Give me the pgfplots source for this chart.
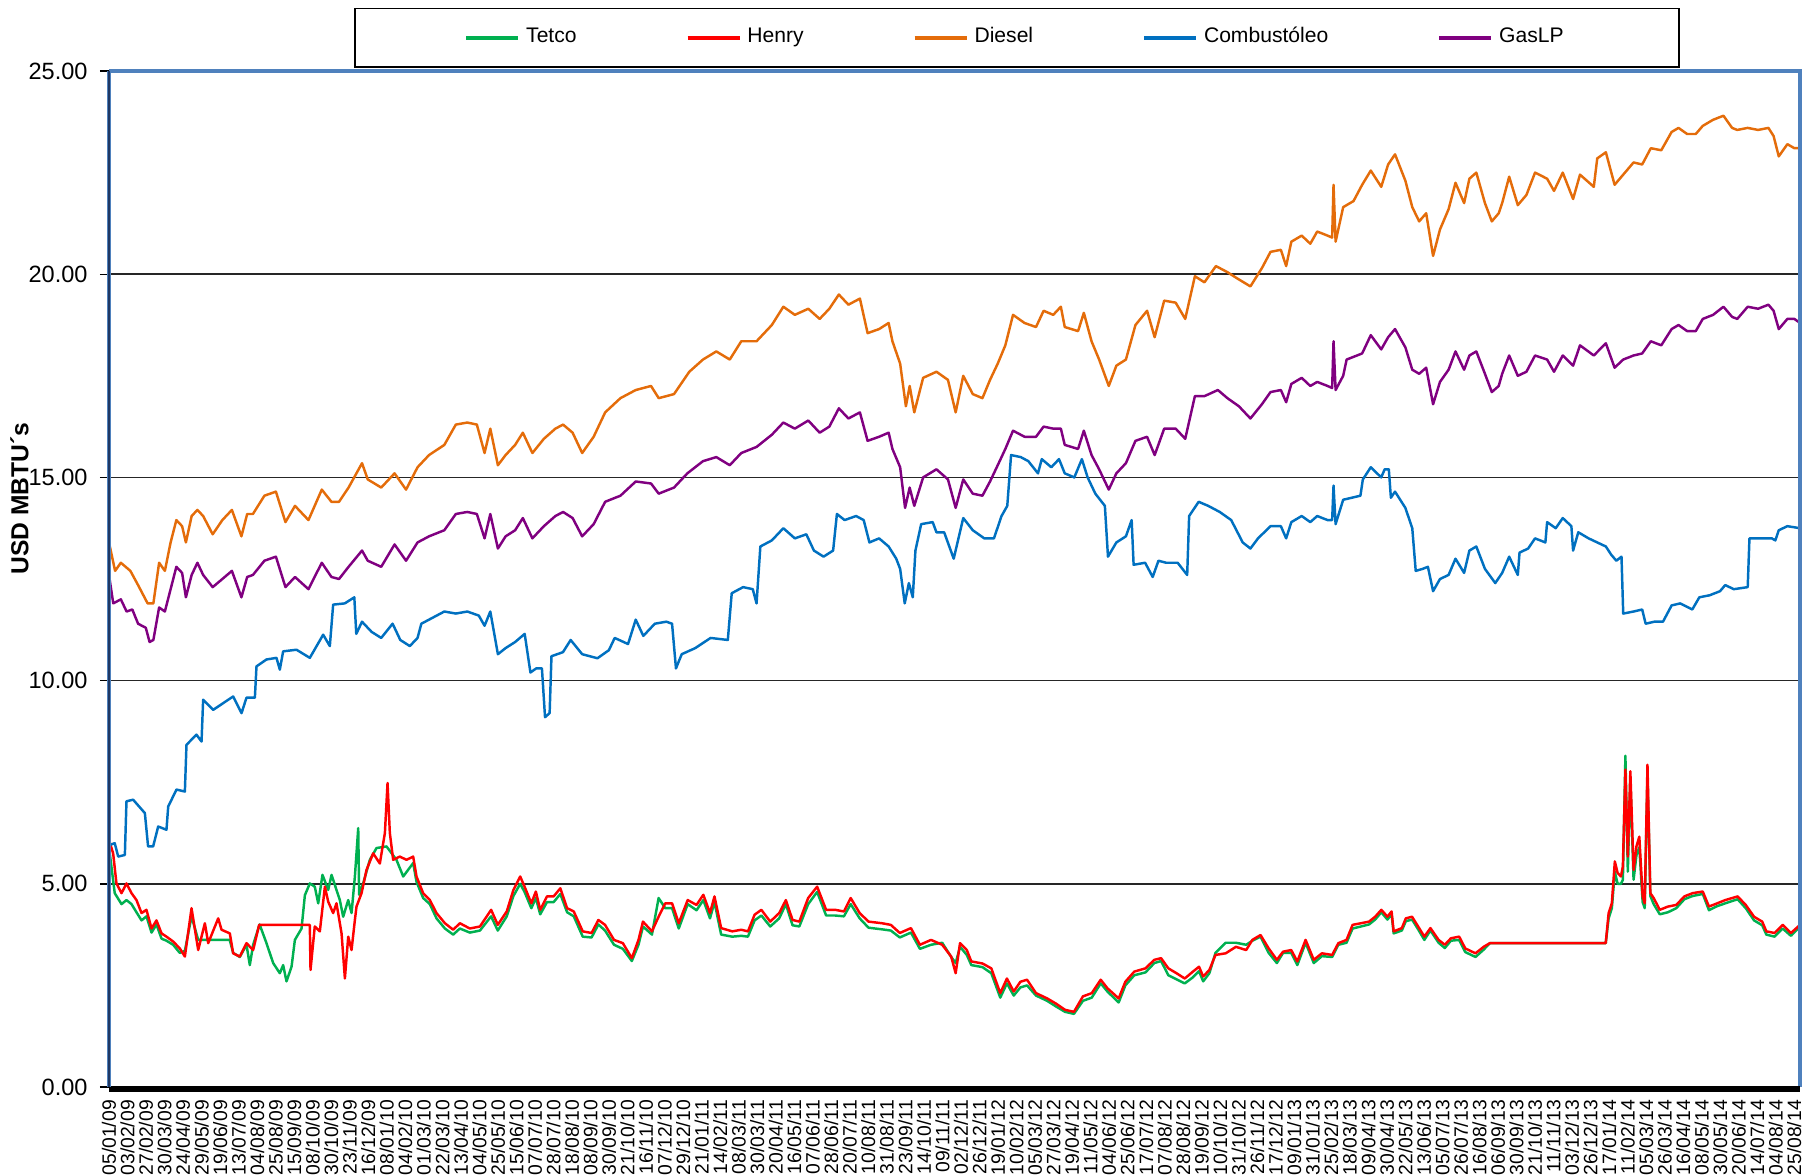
\documentclass[border=0pt]{standalone}
\usepackage{fontspec}
\setmainfont{Liberation Sans}
\usepackage{pgfplots}
\pgfplotsset{compat=1.18}

\definecolor{tetco}{RGB}{0,176,80}
\definecolor{henry}{RGB}{255,0,0}
\definecolor{diesel}{RGB}{228,108,10}
\definecolor{comb}{RGB}{0,112,192}
\definecolor{gaslp}{RGB}{128,0,128}
\definecolor{axblue}{RGB}{79,129,189}
\definecolor{navy}{RGB}{31,56,100}

\begin{document}
\begin{tikzpicture}
\path[use as bounding box] (-1.09,-0.87) rectangle (16.93,10.87);
\begin{axis}[
    at={(0,0)}, anchor=south west,
    scale only axis,
    width=16.91cm, height=10.16cm,
    xmin=95, xmax=1566,
    ymin=0, ymax=25,
    clip mode=individual,
    axis line style={draw=none},
    xtick={95,111.11,...,1562},
    xticklabels={05/01/09,03/02/09,27/02/09,30/03/09,24/04/09,29/05/09,19/06/09,13/07/09,04/08/09,25/08/09,15/09/09,08/10/09,30/10/09,23/11/09,16/12/09,
      08/01/10,04/02/10,01/03/10,22/03/10,13/04/10,04/05/10,25/05/10,15/06/10,07/07/10,28/07/10,18/08/10,08/09/10,30/09/10,21/10/10,16/11/10,07/12/10,29/12/10,
      21/01/11,14/02/11,08/03/11,30/03/11,20/04/11,16/05/11,07/06/11,28/06/11,20/07/11,10/08/11,31/08/11,23/09/11,14/10/11,09/11/11,02/12/11,26/12/11,
      19/01/12,10/02/12,05/03/12,27/03/12,19/04/12,11/05/12,04/06/12,25/06/12,17/07/12,07/08/12,28/08/12,19/09/12,10/10/12,31/10/12,26/11/12,17/12/12,
      09/01/13,31/01/13,25/02/13,18/03/13,09/04/13,30/04/13,22/05/13,13/06/13,05/07/13,26/07/13,16/08/13,06/09/13,30/09/13,21/10/13,11/11/13,03/12/13,26/12/13,
      17/01/14,11/02/14,05/03/14,26/03/14,16/04/14,08/05/14,30/05/14,20/06/14,14/07/14,04/08/14,25/08/14},
    x tick label style={rotate=90, anchor=east, font=\fontsize{5.5}{6}\selectfont, inner sep=1pt},
    xtick style={draw=none},
    ytick={0,5,...,25},
    ytick pos=left,
    tick align=outside,
    major tick length=0.09cm,
    ytick style={black, line width=0.4pt},
    /pgf/number format/assume math mode=true,
    yticklabel style={font=\fontsize{6.7}{8}\selectfont, /pgf/number format/fixed, /pgf/number format/fixed zerofill, /pgf/number format/precision=2},
    ymajorgrids,
    grid style={black!85, line width=0.45pt},
    legend columns=5,
    legend style={at={(0.1449,1.003)}, anchor=south west, draw=black, line width=0.45pt,
      inner xsep=1.095cm, inner ysep=0.12cm, font=\fontsize{6}{7}\selectfont,
      nodes={inner xsep=0.06cm},
      /tikz/every even column/.append style={column sep=1.03cm}},
    legend image code/.code={\draw[#1, line width=1.1pt] (0cm,0cm) -- (0.52cm,0cm);},
    every axis plot/.append style={line width=0.7pt, line join=round, no markers},
]
% Tetco
\addplot[tetco] coordinates {
(95,5.9) (100,4.77) (105.9,4.5) (110.2,4.6) (114.6,4.5) (118.9,4.3) (123.3,4.1) (127.6,4.2) (132,3.8) (136.3,4.0)
(140.7,3.65) (145,3.6) (150.8,3.5) (156.6,3.3) (161,3.35) (166.8,4.2) (172.6,3.62) (200,3.62) (203,3.3) (208.8,3.2)
(214.6,3.5) (217.5,3.0) (220.4,3.5) (226,4.0) (232,3.54) (237.8,3.05) (243.6,2.8) (246.5,3.0) (249.4,2.6) (253.8,2.96)
(256.7,3.62) (262.5,3.9) (265.4,4.72) (269.7,5.01) (274,4.93) (277,4.52) (280.7,5.22) (285.7,4.85) (288.6,5.22) (295.8,4.6)
(298.7,4.19) (303.1,4.6) (306,4.28) (308.9,5.18) (311.8,6.37) (312.6,4.73) (316.1,5.01) (321.9,5.59) (327.7,5.88) (336.4,5.92)
(345.1,5.59) (350.9,5.18) (359.6,5.51) (362.5,5.05) (368.3,4.65) (374.1,4.5) (379.9,4.15) (387.2,3.9) (394.4,3.75) (400.2,3.9)
(408.9,3.8) (417.7,3.85) (427.4,4.2) (433.2,3.85) (441,4.2) (446.8,4.7) (452.7,5.0) (456.5,4.8) (462.4,4.4) (466.3,4.65)
(470.1,4.25) (476,4.55) (481.8,4.55) (487.6,4.75) (493.5,4.3) (499.3,4.2) (507.1,3.7) (514.8,3.68) (520.7,4.0) (526.5,3.85)
(534.3,3.5) (542,3.4) (549.8,3.1) (555.6,3.5) (559.5,3.95) (567.3,3.75) (573.1,4.65) (578.9,4.4) (584.8,4.4) (590.6,3.9)
(598.4,4.5) (606.1,4.35) (612,4.6) (617.8,4.15) (621.7,4.55) (627.5,3.75) (637.2,3.7) (645,3.72) (650.8,3.7) (656.6,4.1)
(662.5,4.22) (670.2,3.95) (678,4.15) (683.8,4.5) (689.6,3.98) (695.5,3.95) (703.2,4.5) (711,4.8) (718.8,4.22) (726.6,4.22)
(734.3,4.2) (740.2,4.5) (748,4.15) (755.7,3.92) (767.4,3.88) (775.1,3.85) (782.9,3.68) (792.6,3.8) (800.4,3.4) (810.1,3.5)
(819.8,3.55) (827.6,3.2) (831.5,3.05) (835.3,3.45) (841.2,3.25) (845.1,3.0) (854.8,2.95) (862.5,2.8) (870.3,2.2) (876.1,2.55)
(882,2.25) (887.8,2.45) (893.6,2.5) (901.4,2.25) (911.1,2.12) (918.9,1.98) (926.6,1.85) (934.4,1.8) (942.2,2.12) (949.9,2.2)
(957.7,2.55) (963.5,2.35) (973.3,2.08) (979.1,2.5) (986.9,2.75) (996.6,2.82) (1004.3,3.05) (1010.2,3.1) (1016.5,2.75) (1023.6,2.65)
(1030.8,2.55) (1037.9,2.7) (1043.2,2.85) (1046.8,2.6) (1052.2,2.8) (1057.5,3.3) (1066.4,3.55) (1075.3,3.55) (1084.2,3.5) (1089.6,3.6)
(1096.7,3.7) (1103.8,3.3) (1110.9,3.05) (1116.3,3.3) (1123.4,3.3) (1128.7,3.0) (1135.9,3.55) (1143,3.05) (1150.1,3.22) (1159,3.2)
(1164.4,3.5) (1171.5,3.55) (1176.8,3.9) (1184,3.95) (1191.1,4.0) (1196.4,4.12) (1201.8,4.3) (1207.1,4.12) (1210.7,4.25) (1212.5,3.78)
(1219.6,3.85) (1223.1,4.08) (1228.5,4.12) (1233.8,3.88) (1239.2,3.62) (1244.5,3.85) (1251.6,3.55) (1257,3.42) (1262.3,3.6) (1269.5,3.62)
(1274.8,3.32) (1283.7,3.2) (1290.8,3.38) (1296.2,3.54) (1397,3.54) (1399.5,4.15) (1402.3,4.4) (1404.9,5.3) (1407.3,5.0) (1410.2,5.0)
(1411.9,5.1) (1414.1,8.15) (1416.2,5.3) (1418.4,7.6) (1421.2,5.1) (1423.7,5.7) (1426.2,5.9) (1429.1,4.55) (1430.9,4.4) (1433.3,7.7)
(1435.8,4.7) (1438.7,4.5) (1444,4.25) (1451.1,4.3) (1458.3,4.4) (1465.4,4.62) (1472.5,4.7) (1481.4,4.75) (1486.8,4.35) (1493.9,4.45)
(1501,4.52) (1511.7,4.62) (1518.8,4.4) (1526,4.1) (1533.1,3.98) (1536.7,3.75) (1543.8,3.7) (1550.9,3.9) (1558.1,3.72) (1566,3.95)
};
\addlegendentry{Tetco}
% Henry
\addplot[henry] coordinates {
(95,6.08) (98.6,5.75) (101.5,5.01) (105.9,4.77) (110.2,5.01) (114.6,4.77) (118.9,4.6) (123.3,4.28) (127.6,4.36) (132,3.9)
(136.3,4.1) (140.7,3.78) (145,3.7) (150.8,3.58) (156.6,3.41) (161,3.21) (166.8,4.4) (172.6,3.37) (178.4,4.03) (181.3,3.54)
(190,4.15) (192.9,3.87) (200.1,3.78) (203,3.29) (208.8,3.21) (214.6,3.54) (220.4,3.37) (225.6,3.99) (269.7,3.99) (270.3,2.88)
(274,3.95) (278.4,3.83) (282.8,4.93) (285.7,4.56) (290,4.28) (292.9,4.52) (297.3,3.78) (300.2,2.67) (303.1,3.7) (306,3.37)
(308.9,4.11) (310.3,4.44) (314.7,4.77) (319,5.34) (324.8,5.75) (330.6,5.5) (335,6.25) (337.3,7.48) (339.3,6.25) (342.2,5.59)
(348,5.67) (353.8,5.59) (359.6,5.67) (362.5,5.18) (368.3,4.77) (374.1,4.6) (379.9,4.28) (387.2,4.03) (394.4,3.87) (400.2,4.03)
(408.9,3.9) (417.7,3.95) (427.4,4.36) (433.2,3.99) (441,4.32) (446.8,4.85) (452.7,5.18) (456.5,4.93) (462.4,4.52) (466.3,4.81)
(470.1,4.36) (476,4.69) (481.8,4.69) (487.6,4.89) (493.5,4.4) (499.3,4.32) (507.1,3.83) (514.8,3.79) (520.7,4.11) (526.5,3.99)
(534.3,3.62) (542,3.54) (549.8,3.17) (555.6,3.62) (559.5,4.07) (567.3,3.83) (573.1,4.19) (578.9,4.52) (584.8,4.52) (590.6,4.03)
(598.4,4.6) (606.1,4.48) (612,4.73) (617.8,4.28) (621.7,4.69) (627.5,3.91) (637.2,3.83) (645,3.87) (650.8,3.83) (656.6,4.24)
(662.5,4.36) (670.2,4.07) (678,4.28) (683.8,4.6) (689.6,4.11) (695.5,4.07) (703.2,4.65) (711,4.93) (718.8,4.36) (726.6,4.36)
(734.3,4.32) (740.2,4.65) (748,4.28) (755.7,4.07) (767.4,4.03) (775.1,3.99) (782.9,3.79) (792.6,3.91) (800.4,3.5) (810.1,3.62)
(819.8,3.5) (827.6,3.21) (831.5,2.8) (835.3,3.54) (841.2,3.37) (845.1,3.09) (854.8,3.04) (862.5,2.92) (870.3,2.31) (876.1,2.67)
(882,2.35) (887.8,2.59) (893.6,2.64) (901.4,2.31) (911.1,2.18) (918.9,2.05) (926.6,1.9) (934.4,1.85) (942.2,2.23) (949.9,2.31)
(957.7,2.64) (963.5,2.43) (973.3,2.18) (979.1,2.59) (986.9,2.84) (996.6,2.92) (1004.3,3.13) (1010.2,3.17) (1016.5,2.92) (1023.6,2.8)
(1030.8,2.67) (1037.9,2.84) (1043.2,2.96) (1046.8,2.72) (1052.2,2.88) (1057.5,3.25) (1066.4,3.29) (1075.3,3.45) (1084.2,3.37) (1089.6,3.62)
(1096.7,3.74) (1103.8,3.41) (1110.9,3.13) (1116.3,3.33) (1123.4,3.37) (1128.7,3.09) (1135.9,3.62) (1143,3.13) (1150.1,3.29) (1159,3.25)
(1164.4,3.54) (1171.5,3.62) (1176.8,3.99) (1184,4.03) (1191.1,4.07) (1196.4,4.19) (1201.8,4.36) (1207.1,4.19) (1210.7,4.32) (1212.5,3.83)
(1219.6,3.91) (1223.1,4.15) (1228.5,4.19) (1233.8,3.95) (1239.2,3.7) (1244.5,3.91) (1251.6,3.62) (1257,3.5) (1262.3,3.66) (1269.5,3.7)
(1274.8,3.41) (1283.7,3.29) (1290.8,3.45) (1296.2,3.54) (1397,3.54) (1399.5,4.28) (1402.3,4.52) (1404.9,5.55) (1407.3,5.27) (1410.2,5.18)
(1411.9,5.43) (1414.1,7.81) (1416.2,5.67) (1418.4,7.77) (1421.2,5.34) (1423.7,5.92) (1426.2,6.16) (1429.1,4.69) (1430.9,4.52) (1433.3,7.93)
(1435.8,4.77) (1438.7,4.65) (1444,4.36) (1451.1,4.44) (1458.3,4.48) (1465.4,4.69) (1472.5,4.77) (1481.4,4.81) (1486.8,4.44) (1493.9,4.52)
(1501,4.6) (1511.7,4.69) (1518.8,4.48) (1526,4.19) (1533.1,4.07) (1536.7,3.83) (1543.8,3.79) (1550.9,3.99) (1558.1,3.79) (1566,3.99)
};
\addlegendentry{Henry}
% Diesel
\addplot[diesel] coordinates {
(95,13.4) (100.3,12.7) (105.3,12.9) (113.6,12.7) (120.3,12.35) (128.6,11.9) (133.6,11.9) (138.6,12.9) (143.6,12.7) (148.6,13.4)
(153.6,13.95) (158.6,13.8) (161.9,13.4) (166.9,14.05) (171.9,14.2) (176.9,14.05) (185.2,13.6) (193.6,13.95) (201.9,14.2) (210.2,13.55)
(215.2,14.1) (220.2,14.1) (230.2,14.55) (240.2,14.65) (248.5,13.9) (256.8,14.3) (268.5,13.95) (280.1,14.7) (288.5,14.4) (295.1,14.4)
(303.4,14.75) (315.1,15.35) (320.1,14.95) (331.8,14.75) (343.4,15.1) (353.4,14.7) (363.4,15.25) (373.4,15.55) (386.7,15.8) (396.7,16.3)
(406.7,16.35) (415.0,16.3) (421.7,15.6) (426.7,16.2) (433.3,15.3) (440.0,15.55) (448.3,15.8) (455.0,16.1) (463.3,15.6) (473.3,15.95)
(483.3,16.2) (490.0,16.3) (498.3,16.1) (506.6,15.6) (516.6,16.0) (526.6,16.6) (539.9,16.95) (553.2,17.15) (566.5,17.25) (573.2,16.95)
(586.5,17.05) (599.8,17.6) (611.7,17.9) (623.3,18.1) (635.0,17.9) (645.0,18.35) (658.3,18.35) (671.6,18.75) (681.6,19.2) (691.6,19.0)
(703.3,19.15) (713.2,18.9) (721.6,19.15) (729.9,19.5) (738.2,19.25) (748.2,19.4) (754.9,18.55) (764.9,18.65) (773.2,18.8) (776.5,18.35)
(783.2,17.8) (788.2,16.75) (791.5,17.25) (795.5,16.6) (803.2,17.45) (814.8,17.6) (824.8,17.4) (831.5,16.6) (838.1,17.5) (846.4,17.05)
(854.8,16.95) (861.4,17.4) (868.1,17.8) (874.7,18.25) (881.4,19.0) (891.4,18.8) (901.4,18.7) (908.0,19.1) (916.4,19.0) (923.0,19.2)
(926.4,18.7) (938.0,18.6) (943.0,19.05) (949.7,18.35) (956.3,17.9) (964.7,17.25) (971.3,17.75) (979.6,17.9) (987.9,18.75) (998.0,19.1)
(1004.6,18.45) (1012.9,19.35) (1022.9,19.3) (1031.2,18.9) (1039.6,19.95) (1047.9,19.8) (1057.9,20.2) (1067.9,20.05) (1076.2,19.9) (1087.9,19.7)
(1097.9,20.15) (1105.4,20.55) (1114.4,20.6) (1119,20.2) (1123.5,20.8) (1132.5,20.95) (1140,20.75) (1146,21.05) (1155,20.95) (1159,20.9)
(1160.2,22.2) (1162,20.8) (1168.6,21.65) (1177.6,21.8) (1185.1,22.2) (1192.6,22.55) (1201.7,22.15) (1207.7,22.7) (1213.7,22.95) (1222.7,22.3)
(1228.7,21.65) (1234.7,21.3) (1240.8,21.5) (1246.8,20.45) (1252.8,21.1) (1260.3,21.6) (1266.3,22.25) (1273.8,21.75) (1278.4,22.35) (1284.4,22.5)
(1291.9,21.75) (1297.9,21.3) (1303.9,21.5) (1306.9,21.75) (1313,22.4) (1320.5,21.7) (1328,21.95) (1335.5,22.5) (1346,22.35) (1352,22.05)
(1359.6,22.5) (1368.6,21.85) (1374.6,22.45) (1386.6,22.15) (1389.6,22.85) (1397.1,23.0) (1404.7,22.2) (1412.2,22.45) (1421.2,22.75) (1428.7,22.7)
(1436.2,23.1) (1445.3,23.05) (1454.3,23.5) (1460.3,23.6) (1467.8,23.45) (1475.3,23.45) (1481.4,23.65) (1490.4,23.8) (1499.4,23.9) (1506.9,23.6)
(1511.4,23.55) (1520.5,23.6) (1529.5,23.55) (1538.5,23.6) (1543,23.4) (1547.5,22.9) (1555,23.2) (1561.1,23.1) (1566,23.1)
};
\addlegendentry{Diesel}
% Combustoleo
\addplot[comb] coordinates {
(95,5.95) (100,6.0) (103,5.67) (108.8,5.71) (110.2,7.03) (116,7.07) (126.2,6.74) (129,5.92) (133.4,5.92) (137.8,6.41)
(145,6.33) (146.5,6.9) (153.7,7.32) (161,7.27) (162.4,8.42) (171.1,8.67) (175.5,8.5) (176.9,9.53) (185.6,9.28) (203,9.61)
(210.3,9.2) (214.6,9.58) (221.9,9.58) (223.3,10.35) (232,10.52) (240.7,10.56) (243.6,10.27) (246.5,10.72) (258.1,10.76) (269.7,10.56)
(281.3,11.13) (287.1,10.85) (290,11.87) (300.1,11.9) (308.4,12.05) (310.1,11.15) (315.1,11.45) (323.4,11.2) (331.8,11.05) (341.7,11.4)
(348.4,11.0) (356.7,10.85) (363.4,11.05) (366.7,11.4) (376.7,11.55) (386.7,11.7) (396.7,11.65) (406.7,11.7) (416.7,11.6) (421.7,11.35)
(426.7,11.7) (433.3,10.65) (440,10.8) (448.3,10.95) (456.6,11.15) (461.6,10.2) (466.6,10.3) (471.6,10.3) (474.3,9.1) (478.3,9.2)
(479.9,10.6) (489.9,10.7) (496.6,11.0) (506.6,10.65) (519.9,10.55) (529.9,10.75) (534.9,11.05) (546.5,10.9) (553.2,11.5) (559.8,11.1)
(569.8,11.4) (579.8,11.45) (584.8,11.4) (588.2,10.3) (593.2,10.65) (605,10.8) (618.3,11.05) (633.3,11.0) (636.7,12.15) (646.6,12.3)
(655,12.25) (658.3,11.9) (661.6,13.3) (671.6,13.45) (681.6,13.75) (691.6,13.5) (701.6,13.6) (708.2,13.2) (716.6,13.05) (724.9,13.2)
(728.2,14.1) (734.9,13.95) (744.9,14.05) (751.5,13.95) (756.5,13.4) (764.9,13.5) (773.2,13.3) (779.8,13.0) (783.2,12.75) (787.2,11.9)
(790.8,12.4) (794.2,12.05) (796.5,13.2) (801.5,13.85) (811.5,13.9) (814.8,13.65) (821.5,13.65) (829.8,13.0) (838.1,14.0) (846.4,13.7)
(856.4,13.5) (864.8,13.5) (871.4,14.05) (876.4,14.3) (879.7,15.55) (888.1,15.5) (894.7,15.4) (903.1,15.1) (906.4,15.45) (914.7,15.25)
(921.4,15.45) (926.4,15.1) (934.7,15.0) (941.3,15.45) (946.3,15.0) (953,14.6) (961.3,14.3) (964,13.05) (971.3,13.4) (979.6,13.55)
(984.6,13.95) (986.3,12.85) (996.3,12.9) (1002.9,12.55) (1007.9,12.95) (1014.6,12.9) (1024.6,12.9) (1032.9,12.6) (1034.6,14.05) (1042.9,14.4)
(1051.2,14.3) (1061.2,14.15) (1071.2,13.95) (1081.2,13.4) (1087.9,13.25) (1094.5,13.5) (1105.4,13.8) (1114.4,13.8) (1119,13.5) (1123.5,13.9)
(1132.5,14.05) (1140,13.9) (1146,14.05) (1155,13.95) (1159,13.95) (1160.2,14.8) (1162,13.85) (1168.6,14.45) (1183.6,14.55) (1185.7,14.95)
(1192.6,15.25) (1201.7,15.0) (1204.7,15.2) (1208.3,15.2) (1210.1,14.5) (1213.7,14.65) (1222.7,14.25) (1228.7,13.75) (1231.7,12.7) (1237.8,12.75)
(1242.3,12.8) (1246.8,12.2) (1252.8,12.5) (1260.3,12.6) (1266.3,13.0) (1273.8,12.65) (1278.4,13.2) (1284.4,13.3) (1291.9,12.75) (1300.9,12.4)
(1306.9,12.65) (1313,13.05) (1320.5,12.6) (1322,13.15) (1329.5,13.25) (1335.5,13.5) (1344.5,13.4) (1346,13.9) (1353.5,13.75) (1359.6,14.0)
(1367.1,13.8) (1368.6,13.2) (1373.1,13.65) (1382.1,13.5) (1389.6,13.4) (1397.1,13.3) (1401.7,13.1) (1406.2,12.95) (1410.7,13.05) (1412.2,11.65)
(1421.2,11.7) (1428.7,11.75) (1431.7,11.4) (1439.3,11.45) (1446.8,11.45) (1454.3,11.85) (1461.8,11.9) (1472.3,11.75) (1478.4,12.05) (1487.4,12.1)
(1496.4,12.2) (1500.9,12.35) (1508.4,12.25) (1520.5,12.3) (1522,13.5) (1532.5,13.5) (1541.5,13.5) (1544.5,13.45) (1547.5,13.7) (1555,13.8)
(1566,13.75)
};
\addlegendentry{Combustóleo}
% GasLP
\addplot[gaslp] coordinates {
(95,12.6) (98.7,11.9) (105.3,12.0) (110.3,11.7) (115.3,11.75) (120.3,11.4) (127,11.3) (130.3,10.95) (133.6,11.0) (138.6,11.8)
(143.6,11.7) (148.6,12.25) (153.6,12.8) (158.6,12.65) (161.9,12.05) (166.9,12.6) (171.9,12.9) (176.9,12.6) (185.2,12.3) (193.6,12.5)
(201.9,12.7) (210.2,12.05) (215.2,12.55) (220.2,12.6) (230.2,12.95) (240.2,13.05) (248.5,12.3) (256.8,12.55) (268.5,12.25) (280.1,12.9)
(288.5,12.55) (295.1,12.5) (303.4,12.8) (315.1,13.2) (320.1,12.95) (331.8,12.8) (343.4,13.35) (353.4,12.95) (363.4,13.4) (373.4,13.55)
(386.7,13.7) (396.7,14.1) (406.7,14.15) (415.0,14.1) (421.7,13.5) (426.7,14.1) (433.3,13.25) (440.0,13.55) (448.3,13.7) (455.0,14.0)
(463.3,13.5) (473.3,13.8) (483.3,14.05) (490.0,14.15) (498.3,14.0) (506.6,13.55) (516.6,13.85) (526.6,14.4) (539.9,14.55) (553.2,14.9)
(566.5,14.85) (573.2,14.6) (586.5,14.75) (598.1,15.1) (611.7,15.4) (623.3,15.5) (635,15.3) (645,15.6) (658.3,15.75) (671.6,16.05)
(681.6,16.35) (691.6,16.2) (703.3,16.4) (713.2,16.1) (721.6,16.25) (729.9,16.7) (738.2,16.45) (748.2,16.6) (754.9,15.9) (764.9,16.0)
(773.2,16.1) (776.5,15.7) (783.2,15.25) (787.5,14.25) (791.5,14.75) (795.5,14.3) (803.2,15.0) (814.8,15.2) (824.8,14.95) (831.5,14.25)
(838.1,14.95) (846.4,14.6) (854.8,14.55) (861.4,14.9) (868.1,15.3) (874.7,15.7) (881.4,16.15) (891.4,16.0) (901.4,16.0) (908,16.25)
(916.4,16.2) (923,16.2) (926.4,15.8) (938,15.7) (943,16.15) (949.7,15.55) (956.3,15.2) (964.7,14.7) (971.3,15.1) (979.6,15.35)
(987.9,15.9) (998,16.0) (1004.6,15.55) (1012.9,16.2) (1022.9,16.2) (1031.2,15.95) (1039.6,17.0) (1047.9,17.0) (1059.6,17.15) (1067.9,16.95)
(1077.9,16.75) (1087.9,16.45) (1097.9,16.8) (1105.4,17.1) (1114.4,17.15) (1119,16.85) (1123.5,17.3) (1132.5,17.45) (1140,17.25) (1146,17.35)
(1155,17.25) (1159,17.2) (1160.2,18.35) (1162,17.15) (1168.6,17.5) (1171.6,17.9) (1185.1,18.05) (1192.6,18.5) (1201.7,18.15) (1207.7,18.45)
(1213.7,18.65) (1222.7,18.2) (1228.7,17.65) (1234.7,17.55) (1240.8,17.7) (1246.8,16.8) (1252.8,17.35) (1260.3,17.65) (1266.3,18.1) (1273.8,17.65)
(1278.4,18.0) (1284.4,18.1) (1291.9,17.55) (1297.9,17.1) (1303.9,17.25) (1306.9,17.55) (1313,18.0) (1320.5,17.5) (1328,17.6) (1335.5,18.0)
(1346,17.9) (1352,17.6) (1359.6,18.0) (1368.6,17.75) (1374.6,18.25) (1386.6,18.0) (1397.1,18.3) (1404.7,17.7) (1412.2,17.9) (1421.2,18.0)
(1428.7,18.05) (1436.2,18.35) (1445.3,18.25) (1454.3,18.65) (1460.3,18.75) (1467.8,18.6) (1475.3,18.6) (1481.4,18.9) (1490.4,19.0) (1499.4,19.2)
(1506.9,18.95) (1511.4,18.9) (1520.5,19.2) (1529.5,19.15) (1538.5,19.25) (1543,19.1) (1547.5,18.65) (1555,18.9) (1561.1,18.9) (1566,18.8)
};
\addlegendentry{GasLP}
% frame of the plot area
\draw[axblue, line width=0.9pt] (rel axis cs:0,1) -- (rel axis cs:1,1) -- (rel axis cs:1,0);
\draw[black, line width=1.6pt] ([yshift=-0.6pt]rel axis cs:0,0) -- ([yshift=-0.6pt]rel axis cs:1,0);
\draw[axblue, line width=1.3pt] (rel axis cs:0,0) -- (rel axis cs:0,1);
\draw[navy, line width=0.6pt] (rel axis cs:0,0) -- (rel axis cs:0,1);
\node[rotate=90, font=\bfseries\fontsize{7}{8}\selectfont] at (rel axis cs:-0.0529,0.579) {USD MBTU´s};
\end{axis}
\end{tikzpicture}
\end{document}
